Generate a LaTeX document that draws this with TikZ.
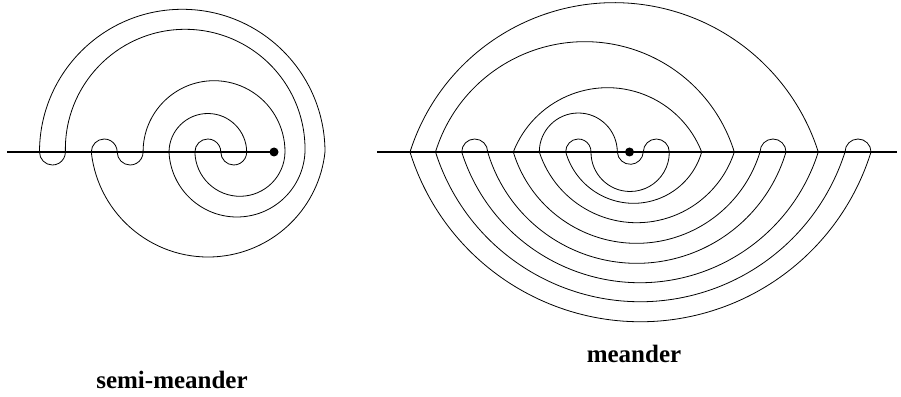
\documentclass[tikz,border=0pt]{standalone}
\usepackage{fontspec}
\setmainfont{Liberation Serif}
\begin{document}
\begin{tikzpicture}[x=1pt,y=1pt,
  strand/.style={line width=0.8pt},
  axis/.style={line width=1.1pt},
  caption/.style={font=\fontsize{25}{30}\selectfont\bfseries,inner sep=0pt,anchor=base}]
  \useasboundingbox (0,-244) rectangle (901,152);
  % semi-meander
  \coordinate (sstart) at (7,0);
  \node[circle,fill,inner sep=0pt,minimum size=9pt] (sdot) at (274,0) {};
  \draw[axis] (sstart) -- (sdot.center);
  \foreach \a/\b/\s in {39.5/325/142.7, 65.4/305/122.7, 91.3/117.2/13,
      143.1/285/71.3, 169/246.7/38.5, 194.9/220.8/13} {
    \pgfmathsetmacro{\hw}{(\b-\a)/2}
    \pgfmathsetmacro{\rad}{0.5*(\hw*(\hw/\s)+\s)}
    \pgfmathsetmacro{\ang}{atan2(\rad-\s,\hw)}
    \draw[strand] (\a,0) arc[start angle=180-\ang, end angle=\ang, radius=\rad];
  }
  \foreach \a/\b/\s in {39.5/65.4/13, 117.2/143.1/13, 220.8/246.7/13,
      91.3/325/105, 169/305/65, 194.9/285/44.3} {
    \pgfmathsetmacro{\hw}{(\b-\a)/2}
    \pgfmathsetmacro{\rad}{0.5*(\hw*(\hw/\s)+\s)}
    \pgfmathsetmacro{\ang}{atan2(\rad-\s,\hw)}
    \draw[strand] (\a,0) arc[start angle=180+\ang, end angle=360-\ang, radius=\rad];
  }
  \node[caption] (semilabel) at (172,-236) {semi-meander};
  % meander
  \coordinate (mstart) at (377,0);
  \coordinate (mend) at (897,0);
  \draw[axis] (mstart) -- (mend);
  \node[circle,fill,inner sep=0pt,minimum size=9pt] (mdot) at (629.5,0) {};
  \foreach \a/\b/\s in {410/818.3/149.3, 435.5/734.3/110.3, 513.3/701.7/64.3,
      539.3/617.3/39, 461.7/487.7/13, 565.7/591/13, 643.3/669.3/13,
      760/786/13, 845/871/13} {
    \pgfmathsetmacro{\hw}{(\b-\a)/2}
    \pgfmathsetmacro{\rad}{0.5*(\hw*(\hw/\s)+\s)}
    \pgfmathsetmacro{\ang}{atan2(\rad-\s,\hw)}
    \draw[strand] (\a,0) arc[start angle=180-\ang, end angle=\ang, radius=\rad];
  }
  \foreach \a/\b/\s in {617.3/643.3/12.3, 591/669.3/39.5, 565.7/701.7/51.3,
      539.3/734.3/70.7, 513.3/760/91.3, 487.7/786/111.3, 461.7/818.3/130.7,
      435.5/845/149.7, 410/871/169.7} {
    \pgfmathsetmacro{\hw}{(\b-\a)/2}
    \pgfmathsetmacro{\rad}{0.5*(\hw*(\hw/\s)+\s)}
    \pgfmathsetmacro{\ang}{atan2(\rad-\s,\hw)}
    \draw[strand] (\a,0) arc[start angle=180+\ang, end angle=360-\ang, radius=\rad];
  }
  \node[caption] (mlabel) at (634,-210) {meander};
\end{tikzpicture}
\end{document}
